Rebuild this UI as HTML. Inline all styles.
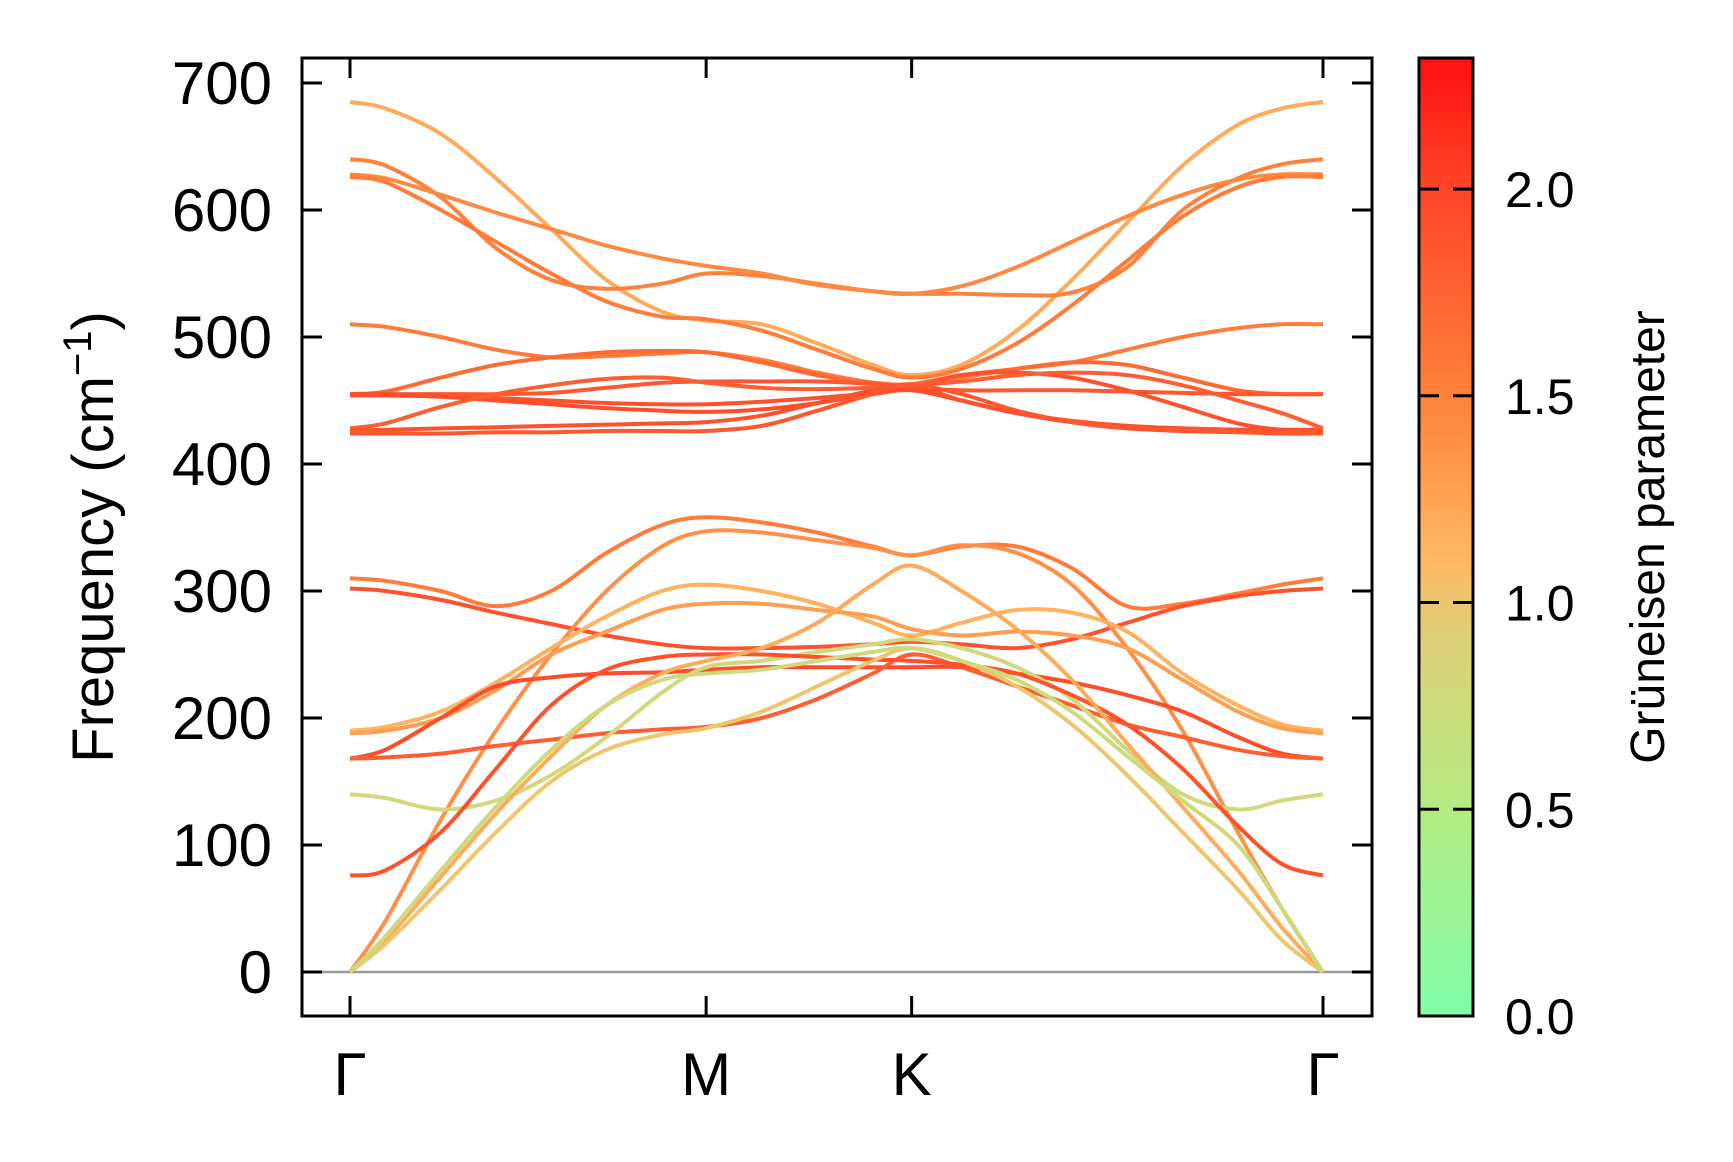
<!DOCTYPE html>
<html><head><meta charset="utf-8"><style>
html,body{margin:0;padding:0;background:#fff;}
svg{display:block;font-family:"Liberation Sans","DejaVu Sans",sans-serif;}
</style></head><body>
<svg id="chart" width="1733" height="1162" viewBox="0 0 1733 1162" xmlns="http://www.w3.org/2000/svg">
<defs>
<linearGradient id="cbgrad" x1="0" y1="1" x2="0" y2="0">
<stop offset="0" stop-color="#80ffaa"/>
<stop offset="0.216" stop-color="#b4eb82"/>
<stop offset="0.39" stop-color="#dcd278"/>
<stop offset="0.475" stop-color="#ffb964"/>
<stop offset="0.647" stop-color="#ff823c"/>
<stop offset="0.863" stop-color="#ff4628"/>
<stop offset="1" stop-color="#ff0f0f"/>
</linearGradient>
<clipPath id="plotclip"><rect x="302" y="58" width="1070" height="958"/></clipPath>
</defs>
<g id="bands" clip-path="url(#plotclip)"></g>
<g id="axes"></g>
<g id="colorbar"></g>
</svg>
<script>
const kDist = [0, 0.099, 0.255, 0.410, 0.565, 0.720, 0.876, 1.0, 1.156, 1.312, 1.468, 1.577, 1.717, 1.872, 2.027, 2.182, 2.338, 2.493, 2.617, 2.732];
const highLabels = ["Γ", "M", "K", "Γ"];
const highDist = [0, 1.0, 1.577, 2.732];
const yTicks = [0, 100, 200, 300, 400, 500, 600, 700];
const cbTicks = [0.0, 0.5, 1.0, 1.5, 2.0];
const bandFreqs = [
[685,680,660,625,585,545,520,513,510,495,478,470,478,505,545,590,635,667,680,685],
[640,635,610,570,545,538,542,550,548,542,536,534,534,533,535,555,600,625,636,640],
[628,625,612,598,585,572,562,556,550,541,536,534,540,555,575,595,612,624,628,628],
[626,622,600,575,550,528,516,514,505,490,475,468,475,495,525,560,595,618,626,626],
[510,508,500,490,484,485,487,488,482,472,464,462,468,475,480,490,500,507,510,510],
[455,457,468,478,484,488,489,488,480,470,464,463,470,475,480,478,468,458,455,455],
[455,455,455,455,456,460,464,465,465,465,463,460,458,458,458,457,456,455,455,455],
[455,455,454,452,450,448,447,447,449,452,456,460,470,472,468,458,445,432,427,427],
[454,454,453,450,447,444,442,441,443,448,455,458,450,440,433,430,428,427,427,427],
[428,432,445,455,462,467,468,464,460,459,460,462,465,470,472,470,462,450,440,428],
[426,427,428,429,430,431,432,433,438,448,458,462,450,440,434,430,428,427,426,426],
[424,424,424,425,425,426,426,426,430,442,455,462,455,442,433,428,426,425,424,424],
[310,308,300,288,300,330,352,358,354,346,335,328,335,335,318,288,290,298,305,310],
[302,300,293,283,274,265,258,255,255,256,258,260,258,255,262,275,288,296,300,302],
[0,40,120,190,250,300,335,347,346,340,334,328,336,330,305,255,190,110,50,0],
[190,193,205,228,255,280,300,305,300,290,275,265,275,285,283,268,235,210,195,190],
[188,190,200,222,250,268,285,290,290,285,280,270,265,268,265,255,230,205,192,188],
[168,175,200,225,232,235,236,238,240,240,240,240,240,235,228,218,205,185,172,168],
[168,169,172,178,183,188,191,193,200,215,235,250,240,225,210,195,185,175,170,168],
[140,137,128,135,155,185,220,240,245,252,258,262,255,240,215,175,140,128,135,140],
[76,80,110,160,210,238,248,250,250,248,246,245,242,235,218,195,160,115,85,76],
[0,25,75,125,170,210,235,245,255,275,305,320,300,270,230,180,130,80,35,0],
[0,22,65,110,150,175,187,192,205,225,245,255,245,225,195,155,110,65,25,0],
[0,28,80,130,175,210,230,235,238,245,252,255,245,230,205,170,135,100,50,0]
];
const bandGamma = [1.2,1.5,1.45,1.55,1.55,1.7,1.85,1.9,1.95,1.8,1.9,1.85,1.55,1.9,1.4,1.15,1.3,1.95,1.8,0.8,1.9,1.2,1.0,0.75];

const NS = "http://www.w3.org/2000/svg";
const X0 = 350, X1 = 1323, KMAX = 2.732;
const Y0 = 972, YS = 1.27;
const PL = 302, PR = 1372, PT = 58, PB = 1016;
const CBL = 1419, CBR = 1473, CBT = 58, CBB = 1016, CBMAX = 2.317;
function xs(d){ return X0 + d*(X1-X0)/KMAX; }
function ys(f){ return Y0 - f*YS; }
function cy(g){ return CBB - g*(CBB-CBT)/CBMAX; }
const cstops = [[0,[128,255,170]],[0.5,[180,235,130]],[0.9,[220,210,120]],[1.1,[255,185,100]],[1.5,[255,130,60]],[2.0,[255,70,40]],[2.32,[255,15,15]]];
function cmap(g){
  for(let i=0;i<cstops.length-1;i++){
    const a=cstops[i], b=cstops[i+1];
    if(g<=b[0]){ const t=Math.max(0,(g-a[0])/(b[0]-a[0])); const c=a[1].map((v,j)=>Math.round(v+(b[1][j]-v)*t)); return "rgb("+c.join(",")+")"; }
  }
  return "rgb(255,15,15)";
}
function mk(tag, attrs, parent){ const e=document.createElementNS(NS,tag); for(const k in attrs) e.setAttribute(k,attrs[k]); parent.appendChild(e); return e; }

const gB = document.getElementById("bands");
const gA = document.getElementById("axes");
const gC = document.getElementById("colorbar");

const zl = mk("line",{x1:PL,x2:PR,y1:ys(0),y2:ys(0),stroke:"#999","stroke-width":2.5},gB);



bandFreqs.forEach((fr, bi)=>{
  const pts = fr.map((f,i)=>[xs(kDist[i]), ys(f)]);
  let d = "M"+pts[0][0].toFixed(1)+","+pts[0][1].toFixed(1);
  for(let i=0;i<pts.length-1;i++){
    const p0=pts[Math.max(0,i-1)], p1=pts[i], p2=pts[i+1], p3=pts[Math.min(pts.length-1,i+2)];
    const c1=[p1[0]+(p2[0]-p0[0])/6, p1[1]+(p2[1]-p0[1])/6];
    const c2=[p2[0]-(p3[0]-p1[0])/6, p2[1]-(p3[1]-p1[1])/6];
    d += " C"+c1[0].toFixed(1)+","+c1[1].toFixed(1)+" "+c2[0].toFixed(1)+","+c2[1].toFixed(1)+" "+p2[0].toFixed(1)+","+p2[1].toFixed(1);
  }
  const p = mk("path",{d:d,fill:"none",stroke:cmap(bandGamma[bi]),"stroke-width":4,"stroke-linejoin":"round"},gB);
  
  
});

const fr = mk("rect",{x:PL,y:PT,width:PR-PL,height:PB-PT,fill:"none",stroke:"#000","stroke-width":3},gA);



yTicks.forEach(v=>{
  const y=ys(v);
  const t1=mk("line",{x1:PL,x2:PL+20,y1:y,y2:y,stroke:"#000","stroke-width":3},gA);
  
  
  const t2=mk("line",{x1:PR-20,x2:PR,y1:y,y2:y,stroke:"#000","stroke-width":3},gA);
  
  
  const tx=mk("text",{x:272,y:y+21,"text-anchor":"end","font-size":60,fill:"#000"},gA);
  tx.textContent=String(v);
  
  
});
highDist.forEach((d,i)=>{
  const x=xs(d);
  const t1=mk("line",{x1:x,x2:x,y1:PT,y2:PT+20,stroke:"#000","stroke-width":3},gA);
  
  
  const t2=mk("line",{x1:x,x2:x,y1:PB-20,y2:PB,stroke:"#000","stroke-width":3},gA);
  
  
  const tx=mk("text",{x:x,y:1095,"text-anchor":"middle","font-size":60,fill:"#000"},gA);
  tx.textContent=highLabels[i];
  
  
});
const yt = mk("text",{x:0,y:0,transform:"translate(113,537) rotate(-90)","text-anchor":"middle","font-size":58,fill:"#000"},gA);
yt.innerHTML = 'Frequency (cm<tspan dy="-22" font-size="40">−1</tspan><tspan dy="22">)</tspan>';



const cb = mk("rect",{x:CBL,y:CBT,width:CBR-CBL,height:CBB-CBT,fill:"url(#cbgrad)",stroke:"#000","stroke-width":3},gC);


cbTicks.forEach(v=>{
  const y=cy(v);
  if(v>0){
    const a=mk("line",{x1:CBL,x2:CBL+20,y1:y,y2:y,stroke:"#000","stroke-width":3},gC);
    
    
    const b=mk("line",{x1:CBR-20,x2:CBR,y1:y,y2:y,stroke:"#000","stroke-width":3},gC);
    
    
  }
  const tx=mk("text",{x:1505,y:y+18,"font-size":50,fill:"#000"},gC);
  tx.textContent=v.toFixed(1);
  
  
});
const ct = mk("text",{x:0,y:0,transform:"translate(1664,537) rotate(-90)","text-anchor":"middle","font-size":48,fill:"#000"},gC);
ct.textContent="Grüneisen parameter";


</script>
</body></html>
